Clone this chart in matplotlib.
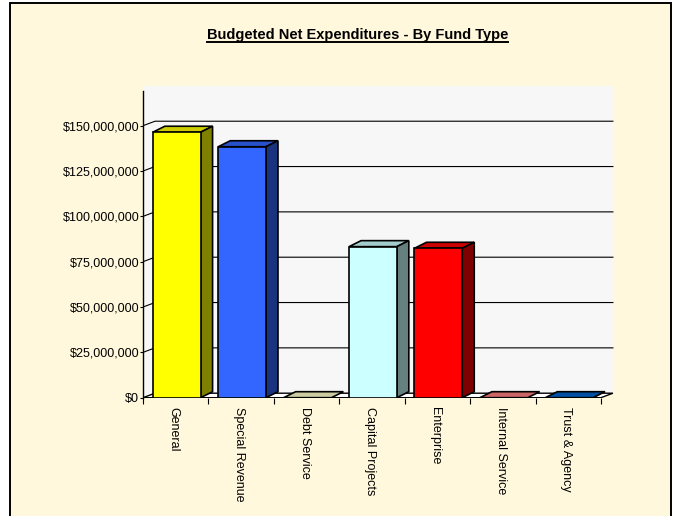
import matplotlib
matplotlib.use("Agg")
import matplotlib.pyplot as plt
from matplotlib.patches import Polygon, Rectangle
from matplotlib.ticker import FuncFormatter
from matplotlib.lines import Line2D

plt.rcParams['font.family'] = ['Liberation Sans', 'DejaVu Sans']

# ---- data ----
categories = ["General", "Special Revenue", "Debt Service", "Capital Projects",
              "Enterprise", "Internal Service", "Trust & Agency"]
expenditures = [146.4e6, 138.4e6, 0.0, 83.3e6, 82.4e6, 0.0, 0.0]
front_colors = ["#FFFF00", "#3366FF", "#FFFFCC", "#CCFFFF", "#FF0000", "#FF8080", "#0066CC"]
value_ticks = [0, 25e6, 50e6, 75e6, 100e6, 125e6, 150e6]
title = "Budgeted Net Expenditures - By Fund Type"


def shade(hex_color, f):
    h = hex_color.lstrip('#')
    r, g, b = (int(h[i:i + 2], 16) for i in (0, 2, 4))
    return '#%02X%02X%02X' % (int(r * f), int(g * f), int(b * f))


W, H = 674, 516
fig = plt.figure(figsize=(W / 100, H / 100), dpi=100, facecolor='white')

# cream chart area with a dark frame, behind everything
frame = Rectangle((10 / W, -0.05), 661 / W, (H - 3) / H + 0.05,
                  transform=fig.transFigure, facecolor='#FFF8DC',
                  edgecolor='black', lw=1.4)
frame.set_zorder(-10)
fig.add_artist(frame)

# plot area in pixels
L, B, R, T = 143, 397.7, 614, 86
XMAX = 7.2
YMAX = 171.9e6
ax = fig.add_axes([L / W, (H - B) / H, (R - L) / W, (B - T) / H])
ax.set_zorder(1)
ax.set_xlim(0, XMAX)
ax.set_ylim(0, YMAX)
ax.set_facecolor('#F7F7F7')

px_x = XMAX / (R - L)
px_y = YMAX / (B - T)
wall_dx, wall_dy = 12 * px_x, 4.5 * px_y
bar_dx, bar_dy = 12 * px_x, 6.0 * px_y
n = len(categories)

# cream corner right of the floor
ax.add_patch(Polygon([(n, 0), (XMAX, 0), (XMAX, wall_dy)], closed=True,
                     facecolor='#FFF8DC', edgecolor='none', zorder=1))

# gridlines running across the side wall and along the back wall
for v in value_ticks[1:]:
    ax.add_line(Line2D([0, wall_dx, n + wall_dx], [v, v + wall_dy, v + wall_dy],
                       color='black', lw=0.8, zorder=1))

# floor
ax.add_patch(Polygon([(0, 0), (n, 0), (n + wall_dx, wall_dy), (wall_dx, wall_dy)],
                     closed=True, facecolor='white', edgecolor='black', lw=1.0, zorder=2))

# bars: front faces through ax.bar, top and side faces as polygons
bw = 0.73
lefts = [i + 0.15 for i in range(n)]
ax.bar(lefts, expenditures, width=bw, align='edge', color=front_colors,
       edgecolor='black', lw=1.2, zorder=4)
for xl, v, c in zip(lefts, expenditures, front_colors):
    xr = xl + bw
    ax.add_patch(Polygon([(xl, v), (xr, v), (xr + bar_dx, v + bar_dy), (xl + bar_dx, v + bar_dy)],
                         closed=True, facecolor=shade(c, 0.8), edgecolor='black',
                         lw=1.2, zorder=3, joinstyle='miter'))
    if v > 0:
        ax.add_patch(Polygon([(xr, 0), (xr + bar_dx, bar_dy), (xr + bar_dx, v + bar_dy), (xr, v)],
                             closed=True, facecolor=shade(c, 0.5), edgecolor='black',
                             lw=1.2, zorder=3, joinstyle='miter'))

# axes
for s in ('top', 'right', 'bottom'):
    ax.spines[s].set_visible(False)
ax.spines['left'].set_linewidth(1.0)
ax.spines['left'].set_bounds(0, YMAX * 0.985)

ax.set_yticks(value_ticks)
ax.yaxis.set_major_formatter(FuncFormatter(lambda v, p: '${:,.0f}'.format(v)))
ax.tick_params(axis='y', length=2.2, width=0.8, pad=0.5, labelsize=9, colors='black')

ax.set_xticks([i + 0.47 for i in range(n)])
ax.set_xticklabels(categories, rotation=-90, ha='center', va='top', fontsize=9)
ax.set_xticks(range(n + 1), minor=True)
ax.tick_params(axis='x', which='major', length=0, pad=7)
ax.tick_params(axis='x', which='minor', length=4.5, width=0.8, direction='out')

# underlined title
t = fig.text(357.5 / W, 1 - 39.5 / H, title, ha='center', va='baseline',
             fontsize=10.5, fontweight='bold')
fig.canvas.draw()
bb = t.get_window_extent()
uy = H - 42.2
fig.add_artist(Line2D([bb.x0 / W, bb.x1 / W], [uy / H, uy / H], transform=fig.transFigure,
                      color='black', lw=1.4))

fig.savefig('out.png', dpi=100, facecolor=fig.get_facecolor())
